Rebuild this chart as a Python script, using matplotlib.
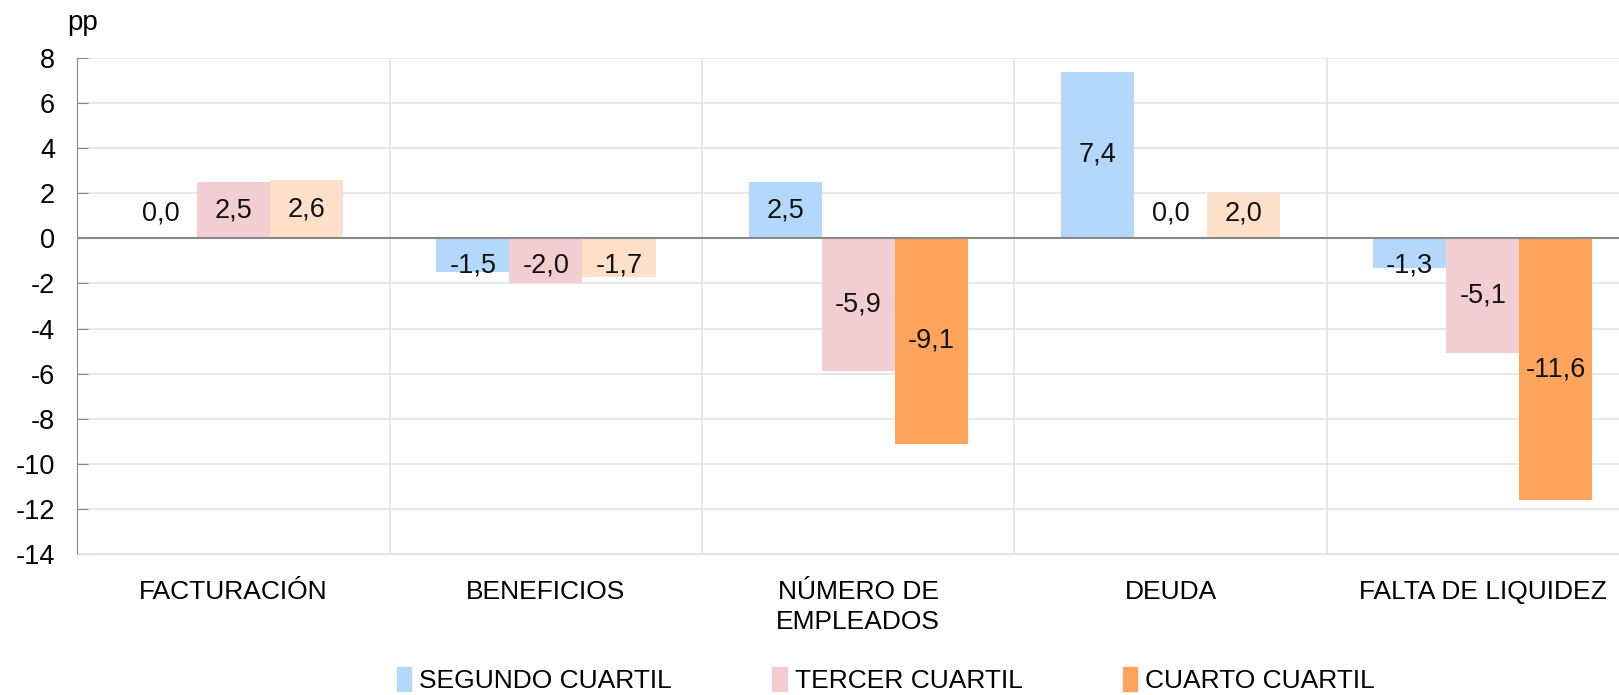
import numpy as np
import matplotlib
matplotlib.use("Agg")
from matplotlib import pyplot as plt

plt.rcParams['font.family'] = ['Liberation Sans', 'DejaVu Sans']
plt.rcParams['axes.unicode_minus'] = False

categories = ['FACTURACIÓN', 'BENEFICIOS', 'NÚMERO DE\nEMPLEADOS', 'DEUDA', 'FALTA DE LIQUIDEZ']
series = ['SEGUNDO CUARTIL', 'TERCER CUARTIL', 'CUARTO CUARTIL']
segundo = [0.0, -1.5, 2.5, 7.4, -1.3]
tercer = [2.5, -2.0, -5.9, 0.0, -5.1]
cuarto = [2.6, -1.7, -9.1, 2.0, -11.6]
yticks = list(range(-14, 9, 2))

blue = '#B3D8FC'
pink = '#F2CED3'
peach = '#FEE0C8'
orange = '#FFA45C'
# the fourth quartile is dark only where the change is large
cuarto_colors = [orange if v < -5 else peach for v in cuarto]

fig = plt.figure(figsize=(16.19, 6.95), dpi=100)
ax = fig.add_axes([77.4 / 1619, 1 - 554 / 695, 1561.6 / 1619, (554 - 58) / 695])

x = np.arange(len(categories))
w = 0.234
vals = [segundo, tercer, cuarto]
cols = [[blue] * 5, [pink] * 5, cuarto_colors]
for i, (v, c) in enumerate(zip(vals, cols)):
    pos = x + (i - 1) * w
    ax.bar(pos, v, width=w, color=c, zorder=2)
    for xp, val in zip(pos, v):
        if abs(val) >= 2.4:
            yl = val / 2
        else:
            yl = -1.2 if val < 0 else 1.1
        ax.text(xp, yl, ('%.1f' % val).replace('.', ','), ha='center', va='center',
                fontsize=19.5, color='#111111', zorder=3)

ax.set_xlim(-0.5, len(categories) - 0.5)
ax.set_ylim(-14, 8)
ax.set_yticks(yticks)
ax.set_yticklabels([str(t) for t in yticks], fontsize=19.5)
ax.yaxis.grid(True, color='#E3E3E3', lw=1.2, zorder=0)
for b in np.arange(0.5, len(categories) - 0.5, 1):
    ax.axvline(b, color='#E3E3E3', lw=1.2, zorder=0)
ax.axhline(0, color='#888888', lw=1.5, zorder=2.5)

ax.set_xticks(x)
ax.set_xticklabels(categories, fontsize=19, va='top', linespacing=1.3)
ax.tick_params(axis='x', length=0, pad=19)
ax.tick_params(axis='y', direction='in', length=8, color='#888888', pad=16)

for s in ['top', 'right']:
    ax.spines[s].set_visible(False)
ax.spines['left'].set_color('#888888')
ax.spines['bottom'].set_color('#E3E3E3')

fig.text(67 / 1619, 1 - 23 / 695, 'pp', fontsize=20, va='center', ha='left')

handles = [plt.Rectangle((0, 0), 1, 1, color=c) for c in [blue, pink, orange]]
fig.legend(handles, series, loc='lower center', bbox_to_anchor=(886 / 1619, -0.024),
           ncol=3, frameon=False, fontsize=19, handlelength=0.55, handleheight=1.0,
           handletextpad=0.3, columnspacing=3.8, borderpad=0.2)

fig.savefig('out.png', dpi=100)
